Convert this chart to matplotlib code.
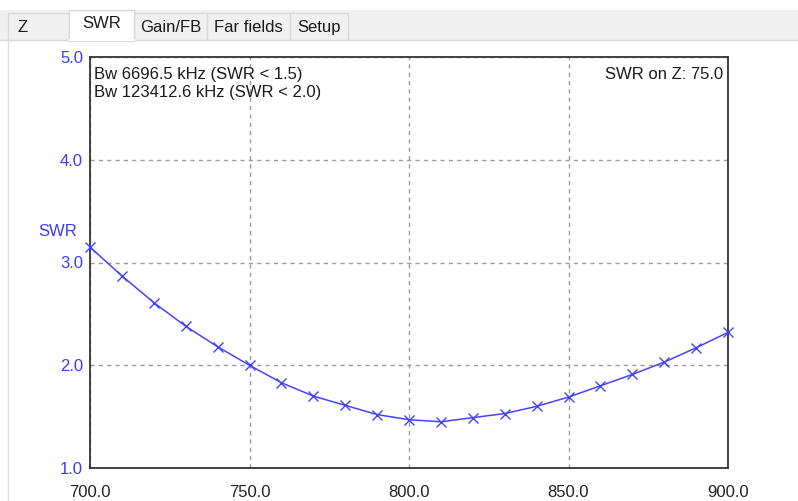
import matplotlib
matplotlib.use("Agg")
import matplotlib.pyplot as plt
from matplotlib.patches import Rectangle

plt.rcParams['font.family'] = ['Liberation Sans', 'DejaVu Sans']

# SWR sweep, 700-900 MHz in 10 MHz steps
freq_mhz = [700, 710, 720, 730, 740, 750, 760, 770, 780, 790, 800,
            810, 820, 830, 840, 850, 860, 870, 880, 890, 900]
swr = [3.15, 2.87, 2.61, 2.38, 2.18, 2.00, 1.83, 1.70, 1.61, 1.52, 1.47,
       1.45, 1.49, 1.53, 1.60, 1.69, 1.80, 1.91, 2.03, 2.17, 2.32]

x_ticks = [700.0, 750.0, 800.0, 850.0, 900.0]
y_ticks = [1.0, 2.0, 3.0, 4.0, 5.0]
tab_names = ["Z", "SWR", "Gain/FB", "Far fields", "Setup"]
tab_edges = [8, 69, 134, 207, 290, 348]
active_tab = "SWR"

W, H = 798, 501
fig = plt.figure(figsize=(W / 100, H / 100), dpi=100)

# background layer in pixel units for the tab strip
bg = fig.add_axes([0, 0, 1, 1], zorder=0)
bg.set_xlim(0, W)
bg.set_ylim(H, 0)
bg.axis("off")
bg.add_patch(Rectangle((0, 10), W, 30, facecolor="#f0f0f0", edgecolor="none"))
bg.plot([0, W], [40, 40], color="#d9d9d9", lw=1)
bg.plot([8, 8], [40, H], color="#dcdcdc", lw=1)
for i, name in enumerate(tab_names):
    x0, x1 = tab_edges[i], tab_edges[i + 1]
    if name == active_tab:
        bg.add_patch(Rectangle((x0, 10), x1 - x0, 31, facecolor="white",
                               edgecolor="#d9d9d9", lw=1, zorder=3))
        bg.plot([x0 + 0.5, x1 - 0.5], [40, 40], color="white", lw=1.5, zorder=4)
        ty = 23
    else:
        bg.add_patch(Rectangle((x0, 13), x1 - x0, 27, facecolor="#f0f0f0",
                               edgecolor="#d9d9d9", lw=1, zorder=2))
        ty = 27
    bg.text((x0 + x1) / 2 if name != "Z" else x0 + 9, ty, name,
            ha="center" if name != "Z" else "left", va="center",
            fontsize=12, color="#1a1a1a", zorder=5)

ax = fig.add_axes([90 / W, 33 / H, 638 / W, 411 / H], zorder=1)
ax.plot(freq_mhz, swr, color="#4444ff", lw=1.1, marker="x", ms=6.5,
        mew=1.0, clip_on=False, zorder=3)

ax.set_xlim(700, 900)
ax.set_ylim(1.0, 5.0)
ax.set_xticks(x_ticks)
ax.set_yticks(y_ticks)
ax.set_xticklabels([f"{v:.1f}" for v in x_ticks], fontsize=12, color="#222222")
ax.set_yticklabels([f"{v:.1f}" for v in y_ticks], fontsize=12, color="#3a3aff")
ax.tick_params(length=0)
ax.tick_params(axis="y", pad=5)
ax.tick_params(axis="x", pad=12)
ax.grid(True, color="#9a9a9a", ls=(0, (3, 3)), lw=1)
for s in ax.spines.values():
    s.set_color("#333333")
    s.set_linewidth(1.3)

ax.text(-0.050, 0.575, "SWR", transform=ax.transAxes, ha="center",
        va="center", fontsize=12, color="#3a3aff")
ax.text(0.006, 0.975, "Bw 6696.5 kHz (SWR < 1.5)\nBw 123412.6 kHz (SWR < 2.0)",
        transform=ax.transAxes, ha="left", va="top", fontsize=12,
        color="#1a1a1a", linespacing=1.25)
ax.text(0.993, 0.975, "SWR on Z: 75.0", transform=ax.transAxes, ha="right",
        va="top", fontsize=12, color="#1a1a1a")

fig.savefig("out.png", dpi=100)
